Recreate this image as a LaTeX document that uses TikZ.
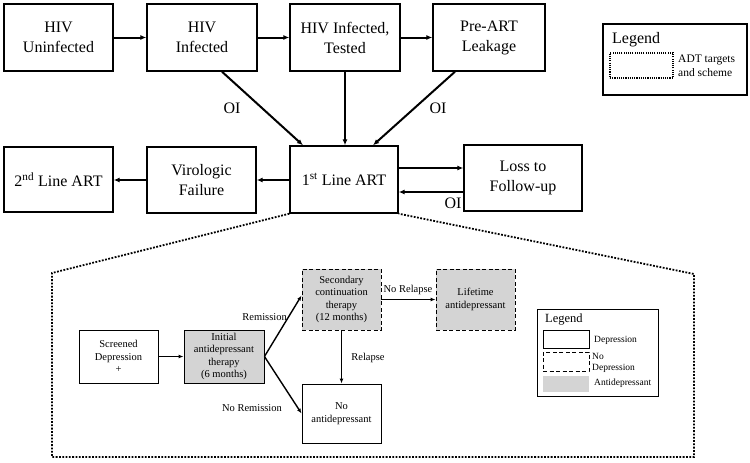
\documentclass[tikz,border=0pt]{standalone}
\usepackage{fontspec}
\setmainfont{Liberation Serif}
\usetikzlibrary{arrows.meta,calc}
\definecolor{adgray}{RGB}{212,212,212}
\begin{document}
\begin{tikzpicture}[x=1pt,y=-1pt,
  bigbox/.style={draw,line width=1.4pt,inner sep=0pt,align=center,font=\fontsize{16}{20}\selectfont},
  arr/.style={line width=2pt,-{Latex[length=6pt,width=5pt]}},
  oilbl/.style={inner sep=0pt,font=\fontsize{16}{18}\selectfont},
  smallbox/.style={draw,line width=0.9pt,inner sep=0pt,align=center,font=\fontsize{10.5}{12.5}\selectfont,minimum width=79,minimum height=53},
  ad/.style={fill=adgray},
  nodep/.style={dashed,dash pattern=on 4pt off 2.5pt},
  sarr/.style={line width=1.4pt,-{Latex[length=5pt,width=4pt]}},
  slbl/.style={inner sep=0pt,font=\fontsize{10.5}{12.5}\selectfont},
  leglbl/.style={inner sep=0pt,align=left,font=\fontsize{9.5}{11}\selectfont},
  bigdots/.style={line width=1.8pt,dash pattern=on 1.8pt off 1.5pt}
]
\useasboundingbox (0,0) rectangle (750,463);

% top row
\node[bigbox,minimum width=109,minimum height=67] (unf) at (58.5,37.5) {HIV\\Uninfected};
\node[bigbox,minimum width=110,minimum height=67] (inf) at (202,37.5) {HIV\\Infected};
\node[bigbox,minimum width=110,minimum height=67] (tst) at (345,37.5) {HIV Infected,\\Tested};
\node[bigbox,minimum width=112,minimum height=67] (pre) at (489,37.5) {Pre-ART\\Leakage};

% middle row
\node[bigbox,minimum width=109,minimum height=65] (sec) at (58.5,179.5) {2\textsuperscript{nd} Line ART};
\node[bigbox,minimum width=109,minimum height=66] (vir) at (201.5,180) {Virologic\\Failure};
\node[bigbox,minimum width=108,minimum height=67] (fst) at (344,179.5) {1\textsuperscript{st} Line ART};
\node[bigbox,minimum width=118,minimum height=66] (ltf) at (523,178) {Loss to\\Follow-up};

% top legend
\node[draw,line width=1.2pt,minimum width=144,minimum height=71,inner sep=0pt] (leg1) at (675,59.5) {};
\node[anchor=west,inner sep=0pt,font=\fontsize{16}{18}\selectfont] (leg1t) at (612,40) {Legend};
\node[draw,line width=1.1pt,dash pattern=on 1.1pt off 1.1pt,minimum width=63,minimum height=25,inner sep=0pt] (leg1b) at (641.5,65.5) {};
\node[anchor=west,inner sep=0pt,align=left,font=\fontsize{11.5}{14}\selectfont] (leg1l) at (678,66) {ADT targets\\and scheme};

% top arrows
\draw[arr] (unf.east) -- (inf.west);
\draw[arr] (inf.east) -- (tst.west);
\draw[arr] (tst.east) -- (pre.west);
\draw[arr] ([xshift=20pt]inf.south) -- ([xshift=-41pt]fst.north);
\draw[arr] (tst.south) -- (tst.south |- fst.north);
\draw[arr] ([xshift=-34pt]pre.south) -- ([xshift=29pt]fst.north);
\node[oilbl] (oi1) at (232,108) {OI};
\node[oilbl] (oi2) at (438,108) {OI};

% middle arrows
\draw[arr] (fst.west |- 0,180) -- (vir.east |- 0,180);
\draw[arr] (vir.west) -- (sec.east |- vir.west);
\draw[arr] (fst.east |- 0,168) -- (ltf.west |- 0,168);
\draw[arr] (ltf.west |- 0,192) -- (fst.east |- 0,192);
\node[oilbl] (oi3) at (453,203) {OI};

% dotted zoom outline
\coordinate (p1) at (52,273);
\coordinate (p2) at (52,457);
\coordinate (p3) at (694,457);
\coordinate (p4) at (694,274);
\draw[bigdots] (fst.south west) -- (p1) -- (p2) -- (p3) -- (p4) -- (fst.south east);

% inner scheme
\node[smallbox] (scr) at (118.5,356.5) {Screened\\Depression\\+};
\node[smallbox,ad,minimum width=80] (ini) at (224,356.5) {Initial\\antidepressant\\therapy\\(6 months)};
\node[smallbox,ad,nodep,minimum height=61] (cnt) at (341.5,299.5) {Secondary\\continuation\\therapy\\(12 months)};
\node[smallbox,ad,nodep,minimum height=61] (lif) at (475.5,299.5) {Lifetime\\antidepressant};
\node[smallbox,minimum height=59] (noa) at (341.5,413.5) {No\\antidepressant};

\draw[sarr] (scr.east) -- (ini.west);
\draw[sarr] (ini.east) -- ([yshift=4pt]cnt.west);
\draw[sarr] (ini.east) -- (noa.west);
\draw[sarr] (cnt.east) -- (lif.west);
\draw[sarr] (cnt.south) -- (noa.north);
\node[slbl,anchor=east] (lrem) at (287,317) {Remission};
\node[slbl] (lnrem) at (252,408) {No Remission};
\node[slbl] (lnrel) at (408,290) {No Relapse};
\node[slbl] (lrel) at (368,358) {Relapse};

% inner legend
\node[draw,line width=0.9pt,minimum width=121,minimum height=87,inner sep=0pt] (leg2) at (597.5,352.5) {};
\node[anchor=west,inner sep=0pt,font=\fontsize{12.5}{14}\selectfont] (leg2t) at (545,320) {Legend};
\node[draw,line width=0.9pt,minimum width=46,minimum height=18,inner sep=0pt] (lgd) at (566,339) {};
\node[draw,line width=0.9pt,nodep,minimum width=46,minimum height=19,inner sep=0pt] (lgn) at (566,361.5) {};
\node[fill=adgray,minimum width=46,minimum height=16,inner sep=0pt] (lga) at (566,384) {};
\node[leglbl,anchor=west] (lgdt) at (594,340) {Depression};
\node[leglbl,anchor=west] (lgnt) at (592,362.5) {No\\Depression};
\node[leglbl,anchor=west] (lgat) at (594,383) {Antidepressant};
\end{tikzpicture}
\end{document}
